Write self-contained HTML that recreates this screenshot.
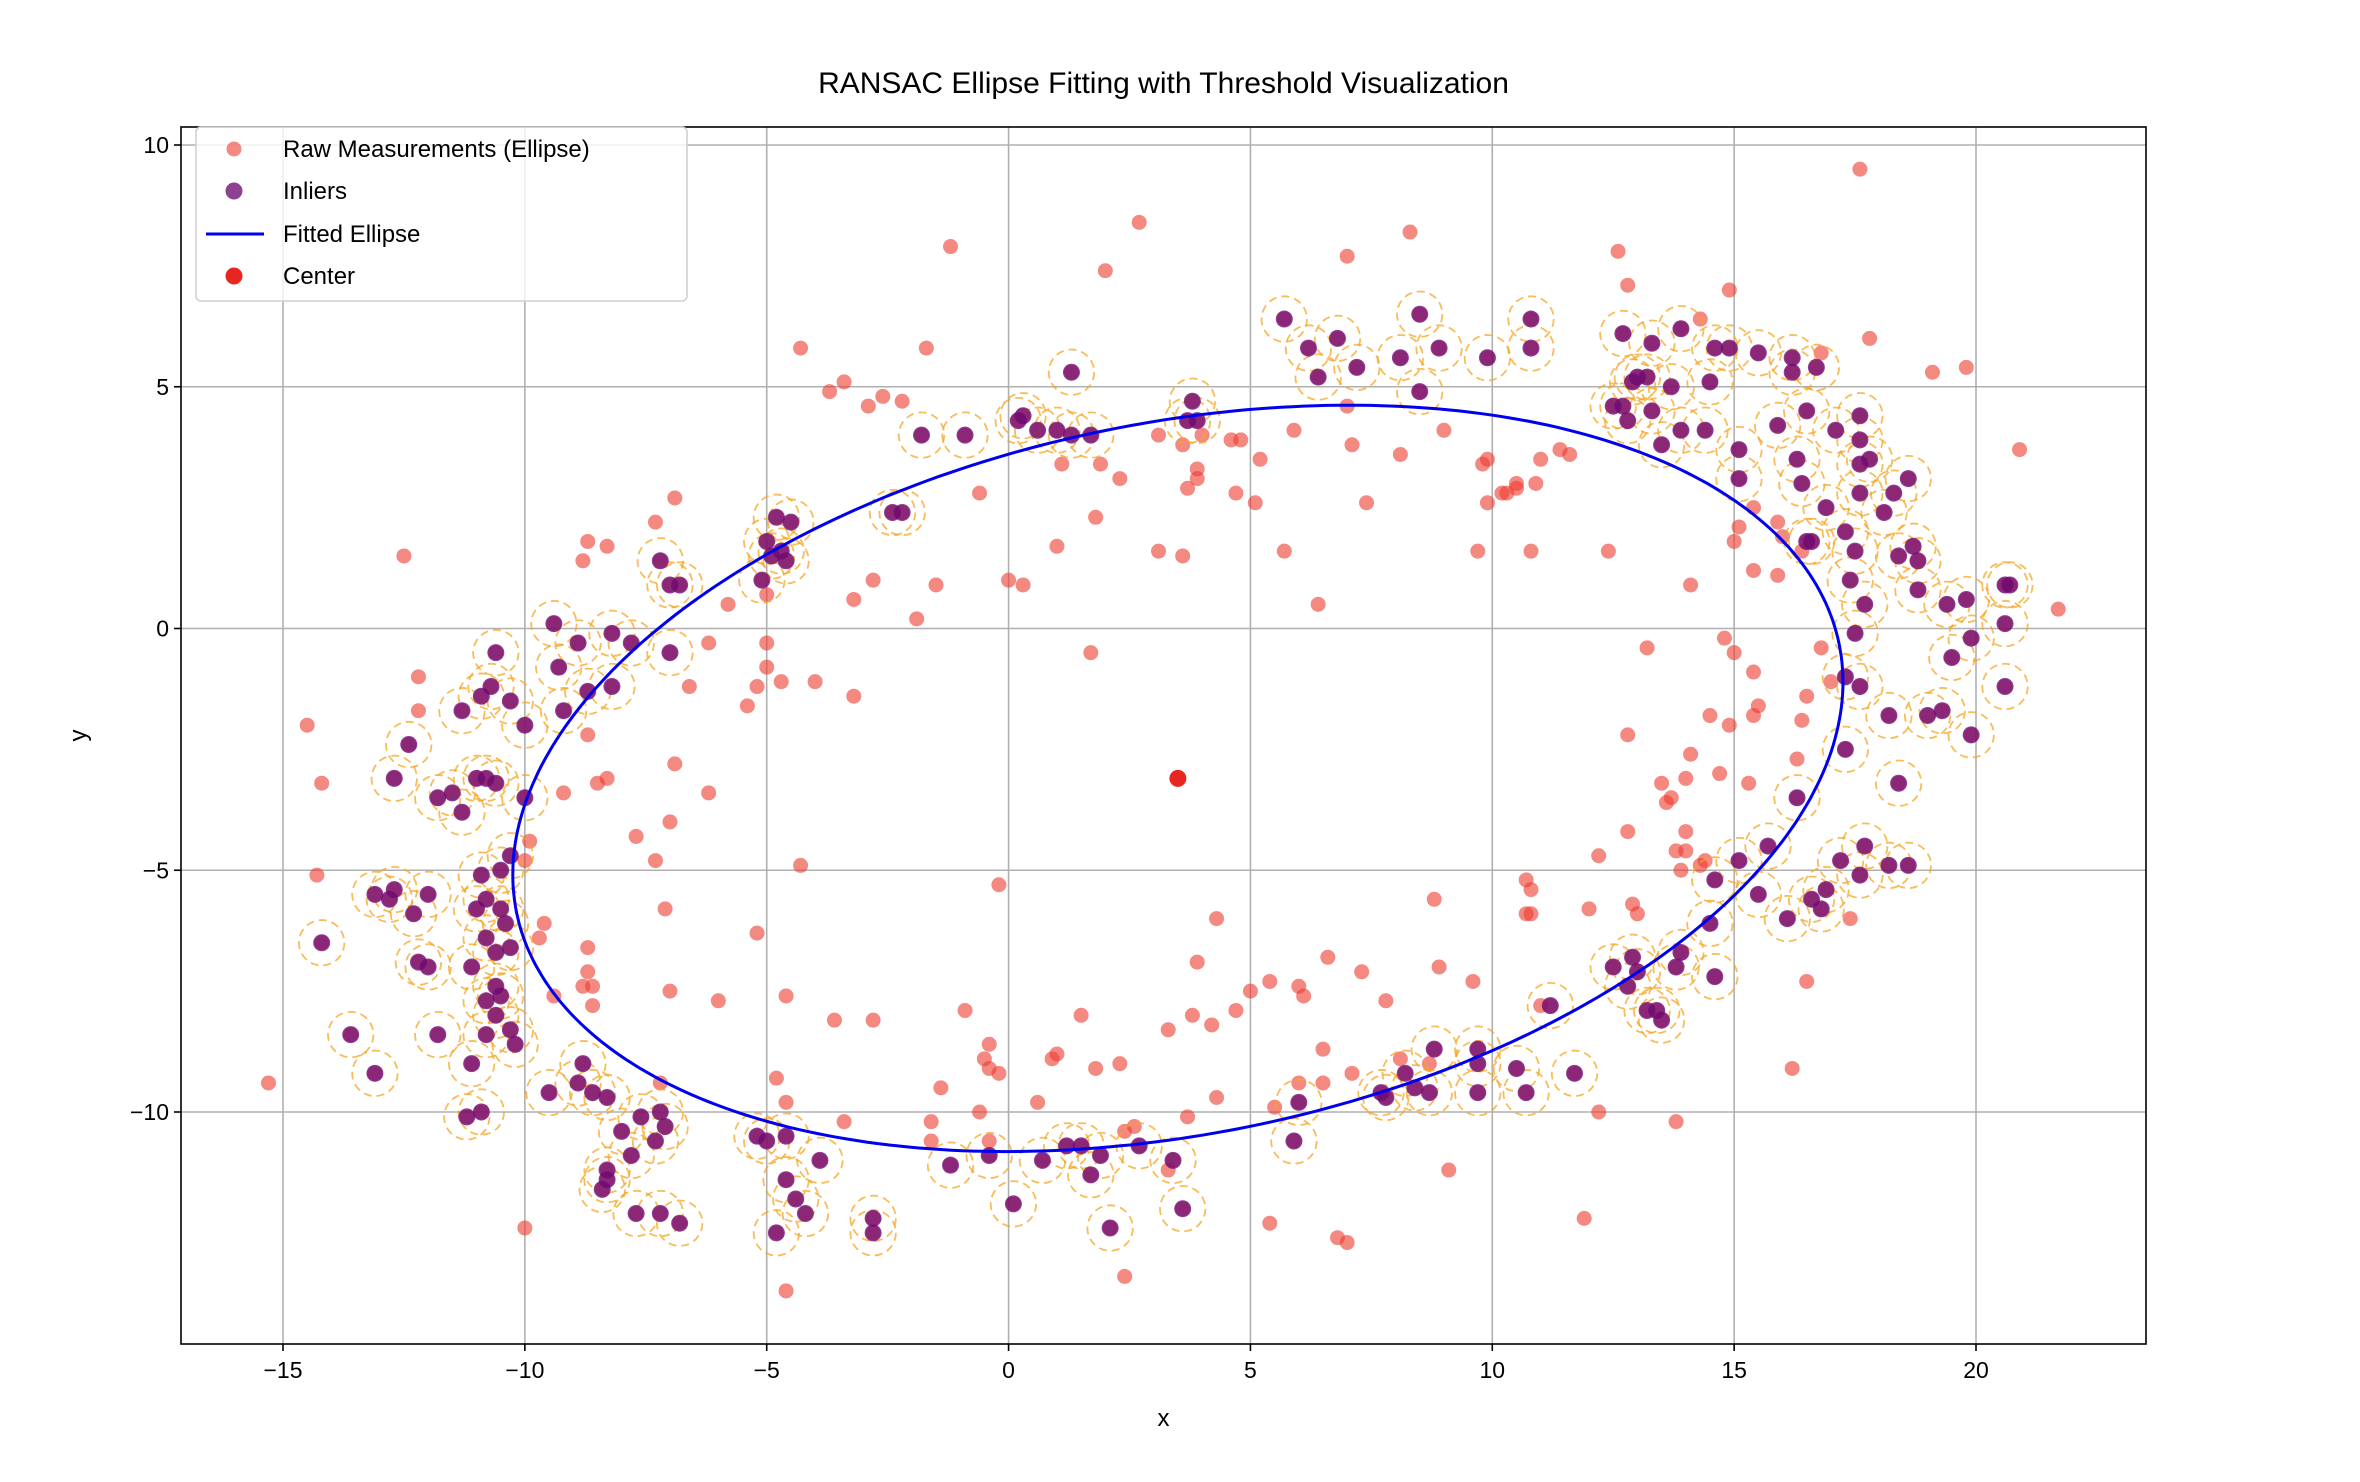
<!DOCTYPE html>
<html><head><meta charset="utf-8"><style>
html,body{margin:0;padding:0;background:#fff;}
svg{display:block;font-family:"Liberation Sans","DejaVu Sans",sans-serif;}
</style></head>
<body>
<svg id="chart" width="2360" height="1482" viewBox="0 0 2360 1482"></svg>
<script>
const xTicks=[-15,-10,-5,0,5,10,15,20];
const yTicks=[-10,-5,0,5,10];
const ellipseCenter=[3.5,-3.1];
const ellipseAxes=[13.95,7.35];
const ellipseAngle=0.2;
const inliers=[[5.7,6.4],[6.8,6.0],[8.5,6.5],[10.8,6.4],[9.9,5.6],[10.8,5.8],[8.9,5.8],[8.1,5.6],[7.2,5.4],[6.2,5.8],[6.4,5.2],[8.5,4.9],[3.8,4.7],[1.3,5.3],[3.7,4.3],[3.9,4.3],[1.7,4.0],[1.3,4.0],[1.0,4.1],[0.6,4.1],[0.2,4.3],[0.3,4.4],[-0.9,4.0],[-1.8,4.0],[-2.4,2.4],[-2.2,2.4],[-4.8,2.3],[-4.5,2.2],[-5.0,1.8],[-4.9,1.5],[-4.6,1.4],[-5.1,1.0],[-4.7,1.6],[-7.0,0.9],[-6.8,0.9],[-7.2,1.4],[-7.0,-0.5],[-8.2,-0.1],[-9.4,0.1],[-9.3,-0.8],[-8.9,-0.3],[-8.7,-1.3],[-8.2,-1.2],[-7.8,-0.3],[-10.6,-0.5],[-10.7,-1.2],[-10.9,-1.4],[-10.3,-1.5],[-10.0,-2.0],[-11.3,-1.7],[-9.2,-1.7],[-12.4,-2.4],[-12.7,-3.1],[-11.0,-3.1],[-10.8,-3.1],[-10.6,-3.2],[-11.5,-3.4],[-11.8,-3.5],[-11.3,-3.8],[-10.0,-3.5],[-13.1,-5.5],[-12.7,-5.4],[-12.8,-5.6],[-12.0,-5.5],[-12.3,-5.9],[-10.9,-5.1],[-10.5,-5.0],[-10.3,-4.7],[-11.0,-5.8],[-10.8,-5.6],[-10.5,-5.8],[-10.4,-6.1],[-14.2,-6.5],[-12.2,-6.9],[-12.0,-7.0],[-10.8,-6.4],[-10.6,-6.7],[-10.3,-6.6],[-11.1,-7.0],[-10.6,-7.4],[-10.5,-7.6],[-10.8,-7.7],[-10.6,-8.0],[-10.8,-8.4],[-10.3,-8.3],[-10.2,-8.6],[-11.8,-8.4],[-13.6,-8.4],[-13.1,-9.2],[-11.1,-9.0],[-11.2,-10.1],[-10.9,-10.0],[-9.5,-9.6],[-8.9,-9.4],[-8.8,-9.0],[-8.6,-9.6],[-8.3,-9.7],[-8.0,-10.4],[-7.6,-10.1],[-7.2,-10.0],[-7.3,-10.6],[-7.1,-10.3],[-7.8,-10.9],[-8.3,-11.2],[-8.3,-11.4],[-8.4,-11.6],[-7.7,-12.1],[-7.2,-12.1],[-6.8,-12.3],[-5.2,-10.5],[-5.0,-10.6],[-4.6,-10.5],[-4.6,-11.4],[-4.4,-11.8],[-4.2,-12.1],[-4.8,-12.5],[-3.9,-11.0],[-2.8,-12.2],[-2.8,-12.5],[-1.2,-11.1],[-0.4,-10.9],[0.1,-11.9],[0.7,-11.0],[1.2,-10.7],[1.5,-10.7],[1.7,-11.3],[1.9,-10.9],[2.1,-12.4],[2.7,-10.7],[3.4,-11.0],[3.6,-12.0],[5.9,-10.6],[6.0,-9.8],[7.7,-9.6],[7.8,-9.7],[8.2,-9.2],[8.4,-9.5],[8.7,-9.6],[8.8,-8.7],[9.7,-8.7],[9.7,-9.0],[9.7,-9.6],[10.5,-9.1],[10.7,-9.6],[11.2,-7.8],[11.7,-9.2],[12.5,-7.0],[12.8,-7.4],[12.9,-6.8],[13.0,-7.1],[13.2,-7.9],[13.4,-7.9],[13.5,-8.1],[13.8,-7.0],[13.9,-6.7],[14.5,-6.1],[14.6,-7.2],[14.6,-5.2],[15.1,-4.8],[15.5,-5.5],[15.7,-4.5],[16.1,-6.0],[16.3,-3.5],[16.6,-5.6],[16.8,-5.8],[16.9,-5.4],[17.2,-4.8],[17.6,-5.1],[17.7,-4.5],[18.2,-4.9],[18.4,-3.2],[18.6,-4.9],[17.3,-2.5],[17.6,-1.2],[18.2,-1.8],[19.0,-1.8],[19.3,-1.7],[19.9,-2.2],[20.6,-1.2],[17.3,-1.0],[17.5,-0.1],[19.5,-0.6],[19.9,-0.2],[20.6,0.1],[19.4,0.5],[19.8,0.6],[20.6,0.9],[20.7,0.9],[17.7,0.5],[18.8,0.8],[18.4,1.5],[18.8,1.4],[18.7,1.7],[17.4,1.0],[17.5,1.6],[16.5,1.8],[16.6,1.8],[17.3,2.0],[18.1,2.4],[18.3,2.8],[17.6,2.8],[16.9,2.5],[16.4,3.0],[16.3,3.5],[15.1,3.1],[15.1,3.7],[17.6,3.4],[17.8,3.5],[17.6,3.9],[18.6,3.1],[17.6,4.4],[17.1,4.1],[16.5,4.5],[15.9,4.2],[16.2,5.3],[16.2,5.6],[16.7,5.4],[15.5,5.7],[14.9,5.8],[14.6,5.8],[14.5,5.1],[14.4,4.1],[13.9,4.1],[13.5,3.8],[13.3,4.5],[12.7,4.6],[12.5,4.6],[12.8,4.3],[13.2,5.2],[12.9,5.1],[13.0,5.2],[13.3,5.9],[13.7,5.0],[13.9,6.2],[12.7,6.1]];
const outliers=[[-15.3,-9.4],[-14.5,-2.0],[-14.2,-3.2],[-14.3,-5.1],[-12.5,1.5],[-12.2,-1.0],[-12.2,-1.7],[-10.0,-12.4],[-9.9,-4.4],[-10.0,-4.8],[-9.6,-6.1],[-9.7,-6.4],[-9.4,-7.6],[-9.2,-3.4],[-8.8,1.4],[-8.7,1.8],[-8.3,1.7],[-8.5,-3.2],[-8.3,-3.1],[-8.7,-2.2],[-7.7,-4.3],[-7.0,-4.0],[-6.9,-2.8],[-7.3,-4.8],[-7.1,-5.8],[-7.0,-7.5],[-8.7,-6.6],[-8.7,-7.1],[-8.6,-7.4],[-8.8,-7.4],[-8.6,-7.8],[-7.2,-9.4],[-7.3,2.2],[-6.9,2.7],[-6.6,-1.2],[-6.2,-0.3],[-6.2,-3.4],[-6.0,-7.7],[-5.8,0.5],[-5.4,-1.6],[-5.2,-1.2],[-4.7,-1.1],[-5.0,-0.8],[-5.0,-0.3],[-5.0,0.7],[-5.2,-6.3],[-4.8,-9.3],[-4.6,-9.8],[-4.6,-7.6],[-4.6,-13.7],[-4.3,-4.9],[-4.0,-1.1],[-3.7,4.9],[-3.4,5.1],[-4.3,5.8],[-3.6,-8.1],[-3.4,-10.2],[-3.2,-1.4],[-3.2,0.6],[-2.8,1.0],[-2.9,4.6],[-2.6,4.8],[-2.2,4.7],[-1.7,5.8],[-2.8,-8.1],[-1.9,0.2],[-1.5,0.9],[-1.6,-10.2],[-1.6,-10.6],[-1.4,-9.5],[-1.2,7.9],[-0.9,-7.9],[-0.6,2.8],[-0.6,-10.0],[-0.5,-8.9],[-0.4,-8.6],[-0.4,-9.1],[-0.4,-10.6],[-0.2,-9.2],[-0.2,-5.3],[0.0,1.0],[0.3,0.9],[0.6,-9.8],[0.9,-8.9],[1.0,-8.8],[1.0,1.7],[1.1,3.4],[1.7,-0.5],[1.5,-8.0],[1.8,2.3],[1.8,-9.1],[1.9,3.4],[2.0,7.4],[2.3,3.1],[2.3,-9.0],[2.4,-13.4],[2.4,-10.4],[2.6,-10.3],[2.7,8.4],[3.1,4.0],[3.1,1.6],[3.3,-8.3],[3.3,-11.2],[3.6,1.5],[3.6,3.8],[3.7,2.9],[3.7,-10.1],[3.8,-8.0],[3.9,-6.9],[3.9,3.3],[3.9,3.1],[4.0,4.0],[4.2,-8.2],[4.3,-6.0],[4.3,-9.7],[4.6,3.9],[4.7,2.8],[4.7,-7.9],[4.8,3.9],[5.0,-7.5],[5.1,2.6],[5.2,3.5],[5.4,-12.3],[5.4,-7.3],[5.5,-9.9],[5.7,1.6],[5.9,4.1],[6.0,-7.4],[6.0,-9.4],[6.1,-7.6],[6.4,0.5],[6.5,-8.7],[6.6,-6.8],[6.5,-9.4],[6.8,-12.6],[7.0,-12.7],[7.1,3.8],[7.0,4.6],[7.0,7.7],[7.3,-7.1],[7.1,-9.2],[7.4,2.6],[7.8,-7.7],[8.1,-8.9],[8.1,3.6],[8.3,8.2],[8.7,-9.0],[8.8,-5.6],[8.9,-7.0],[9.0,4.1],[9.1,-11.2],[9.6,-7.3],[9.7,1.6],[9.9,3.5],[9.8,3.4],[9.9,2.6],[10.2,2.8],[10.3,2.8],[10.5,3.0],[10.5,2.9],[10.7,-5.2],[10.8,-5.4],[10.7,-5.9],[10.8,-5.9],[10.8,1.6],[10.9,3.0],[11.0,3.5],[11.0,-7.8],[11.4,3.7],[11.6,3.6],[11.9,-12.2],[12.0,-5.8],[12.2,-4.7],[12.2,-10.0],[12.4,1.6],[12.6,7.8],[12.8,7.1],[12.8,-2.2],[12.8,-4.2],[12.9,-5.7],[13.0,-5.9],[13.2,-0.4],[13.5,-3.2],[13.6,-3.6],[13.7,-3.5],[13.8,-4.6],[13.8,-10.2],[13.9,-5.0],[14.0,-3.1],[14.0,-4.2],[14.0,-4.6],[14.1,0.9],[14.1,-2.6],[14.3,6.4],[14.3,-4.9],[14.4,-4.8],[14.5,-1.8],[14.7,-3.0],[14.8,-0.2],[14.9,-2.0],[14.9,7.0],[15.0,-0.5],[15.0,1.8],[15.1,2.1],[15.3,-3.2],[15.4,-0.9],[15.4,1.2],[15.4,2.5],[15.4,-1.8],[15.5,-1.6],[15.9,2.2],[15.9,1.1],[16.0,1.9],[16.2,-9.1],[16.3,-2.7],[16.4,-1.9],[16.4,1.6],[16.5,-1.4],[16.5,-7.3],[16.8,-0.4],[16.8,5.7],[17.0,-1.1],[17.4,-6.0],[17.6,9.5],[17.8,6.0],[19.1,5.3],[19.8,5.4],[20.9,3.7],[21.7,0.4]];
const thresholdRadius=0.47;

const NS="http://www.w3.org/2000/svg";
const svg=document.getElementById('chart');
const L=181,R=2146,T=127,B=1344;
const X0=283,X1=1976,Y0=145,Y1=1112;
const sx=v=>X0+(v+15)*(X1-X0)/35;
const sy=v=>Y0+(10-v)*(Y1-Y0)/20;
const pxPerUnit=(X1-X0)/35;
function mk(tag,attrs,parent){const e=document.createElementNS(NS,tag);for(const k in attrs)e.setAttribute(k,attrs[k]);(parent||svg).appendChild(e);return e;}

const title=mk('text',{x:(L+R)/2,y:93,'text-anchor':'middle','font-size':30,fill:'#000'});
title.textContent='RANSAC Ellipse Fitting with Threshold Visualization';



const grid=mk('g',{stroke:'#b0b0b0','stroke-width':1.6});


xTicks.forEach(t=>{const l=mk('line',{x1:sx(t),x2:sx(t),y1:T,y2:B},grid);});
yTicks.forEach(t=>{const l=mk('line',{x1:L,x2:R,y1:sy(t),y2:sy(t)},grid);});

const clip=mk('clipPath',{id:'pc'});mk('rect',{x:L,y:T,width:R-L,height:B-T},clip);
const plot=mk('g',{'clip-path':'url(#pc)'});



[...outliers,...inliers].forEach(p=>{
  const c=mk('circle',{cx:sx(p[0]),cy:sy(p[1]),r:7.5,fill:'#ec3b2e','fill-opacity':0.6},plot);
  
  
});
inliers.forEach(p=>{
  const c=mk('circle',{cx:sx(p[0]),cy:sy(p[1]),r:thresholdRadius*pxPerUnit,fill:'none',stroke:'#f5a623','stroke-opacity':0.75,'stroke-width':1.8,'stroke-dasharray':'8,5'},plot);
  
  
});
inliers.forEach(p=>{
  const c=mk('circle',{cx:sx(p[0]),cy:sy(p[1]),r:8.5,fill:'#6e0a74','fill-opacity':0.78},plot);
  
  
});
let d='';
for(let i=0;i<=360;i++){const t=i*Math.PI/180;
  const ex=ellipseCenter[0]+ellipseAxes[0]*Math.cos(t)*Math.cos(ellipseAngle)-ellipseAxes[1]*Math.sin(t)*Math.sin(ellipseAngle);
  const ey=ellipseCenter[1]+ellipseAxes[0]*Math.cos(t)*Math.sin(ellipseAngle)+ellipseAxes[1]*Math.sin(t)*Math.cos(ellipseAngle);
  d+=(i?'L':'M')+sx(ex).toFixed(1)+','+sy(ey).toFixed(1);}
const ell=mk('path',{d:d,fill:'none',stroke:'#0000ee','stroke-width':3},plot);


const ctr=mk('circle',{cx:sx(ellipseCenter[0]),cy:sy(ellipseCenter[1]),r:8.5,fill:'#e8261f'},plot);



const frame=mk('rect',{x:L,y:T,width:R-L,height:B-T,fill:'none',stroke:'#000','stroke-width':1.6});



xTicks.forEach(t=>{
  mk('line',{x1:sx(t),x2:sx(t),y1:B,y2:B+7,stroke:'#000','stroke-width':1.6});
  const tx=mk('text',{x:sx(t),y:B+34,'text-anchor':'middle','font-size':23});
  tx.textContent=(t<0?'\u2212'+(-t):t);
  
  
});
yTicks.forEach(t=>{
  mk('line',{x1:L-7,x2:L,y1:sy(t),y2:sy(t),stroke:'#000','stroke-width':1.6});
  const tx=mk('text',{x:L-12,y:sy(t)+8,'text-anchor':'end','font-size':23});
  tx.textContent=(t<0?'\u2212'+(-t):t);
  
  
});
const xl=mk('text',{x:(L+R)/2,y:1426,'text-anchor':'middle','font-size':24});xl.textContent='x';


const yl=mk('text',{x:86,y:(T+B)/2,'text-anchor':'middle','font-size':24,transform:'rotate(-90 86 '+((T+B)/2)+')'});yl.textContent='y';



const leg=mk('g',{});


mk('rect',{x:196,y:127,width:491,height:174,rx:5,fill:'#fff','fill-opacity':0.8,stroke:'#d0d0d0','stroke-width':1.6},leg);
const legY=[149,191,234,276];
const legText=['Raw Measurements (Ellipse)','Inliers','Fitted Ellipse','Center'];
const legNames=['legend-raw-measurements','legend-inliers','legend-fitted-ellipse','legend-center'];
legText.forEach((s,i)=>{
  const g=mk('g',{},leg);
  
  
  if(i===0)mk('circle',{cx:234,cy:legY[i],r:7.5,fill:'#ec3b2e','fill-opacity':0.6},g);
  if(i===1)mk('circle',{cx:234,cy:legY[i],r:8.5,fill:'#6e0a74','fill-opacity':0.78},g);
  if(i===2)mk('line',{x1:206,x2:264,y1:legY[i],y2:legY[i],stroke:'#0000ee','stroke-width':3},g);
  if(i===3)mk('circle',{cx:234,cy:legY[i],r:8.5,fill:'#e8261f'},g);
  const t=mk('text',{x:283,y:legY[i]+8,'font-size':24},g);t.textContent=s;
});
</script>
</body></html>
